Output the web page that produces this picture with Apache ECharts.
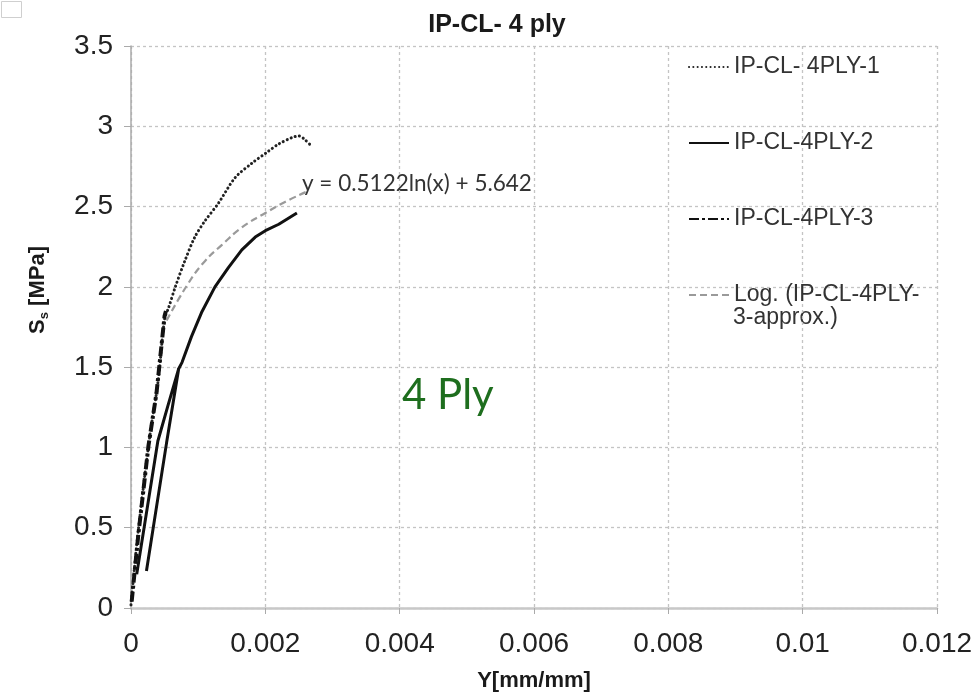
<!DOCTYPE html>
<html>
<head>
<meta charset="utf-8">
<script src="https://cdn.jsdelivr.net/npm/echarts@6/dist/echarts.min.js"></script>
<style>
  html, body { margin: 0; padding: 0; background: #ffffff; }
  #chart { width: 980px; height: 697px; }
</style>
</head>
<body>
<div id="chart"></div>
<script>
// ---- data ----
const xTicks = [0, 0.002, 0.004, 0.006, 0.008, 0.01, 0.012];
const yTicks = [0, 0.5, 1, 1.5, 2, 2.5, 3, 3.5];

const seriesNames = ['IP-CL- 4PLY-1', 'IP-CL-4PLY-2', 'IP-CL-4PLY-3', 'Log. (IP-CL-4PLY-3-approx.)'];

// IP-CL- 4PLY-1 (dotted)
const s1X = [0, 0.0001, 0.00028, 0.0004, 0.0005, 0.00056, 0.00066, 0.0008, 0.00095, 0.0011, 0.0013, 0.00155, 0.0018, 0.00203, 0.0022, 0.0024, 0.0025, 0.00258, 0.00268];
const s1Y = [0.02, 0.45, 1.07, 1.4, 1.8, 1.87, 2.0, 2.16, 2.31, 2.41, 2.52, 2.68, 2.77, 2.84, 2.89, 2.93, 2.94, 2.92, 2.88];

// IP-CL-4PLY-2 (solid, load / unload / reload)
const s2X = [0.000085, 0.0004, 0.00055, 0.00071, 0.00053, 0.00023, 0.00053, 0.00071, 0.00076, 0.0009, 0.00105, 0.00125, 0.00145, 0.00165, 0.00185, 0.002, 0.0022, 0.00247];
const s2Y = [0.21, 1.04, 1.26, 1.49, 1.03, 0.23, 1.03, 1.49, 1.53, 1.69, 1.84, 2.0, 2.12, 2.23, 2.31, 2.35, 2.39, 2.46];

// IP-CL-4PLY-3 (dash-dot)
const s3X = [0.00001, 0.00011, 0.00026, 0.00038, 0.0005, 0.00052];
const s3Y = [0.04, 0.46, 1.01, 1.34, 1.82, 1.85];

// Log. trend line
const logX = [0.00053, 0.00085, 0.0011, 0.00135, 0.00165, 0.002, 0.0023, 0.0026];
const logY = [1.79, 2.02, 2.16, 2.26, 2.37, 2.46, 2.53, 2.59];

const titleText = 'IP-CL- 4 ply';
const xName = 'Y[mm/mm]';
const equationText = 'y = 0.5122ln(x) + 5.642';
const plyText = '4 Ply';

function pairs(xs, ys) { return xs.map((x, i) => [x, ys[i]]); }

const chart = echarts.init(document.getElementById('chart'), null, { renderer: 'canvas' });

const gridLine = { show: true, lineStyle: { color: '#c4c4c4', width: 1.3, type: [3, 3] } };

const option = {
  backgroundColor: '#ffffff',
  animation: false,
  title: {
    text: titleText,
    left: 492, top: 8, textAlign: 'center',
    textStyle: { fontFamily: 'Liberation Sans', fontWeight: 'bold', fontSize: 25, color: '#1a1a1a' }
  },
  grid: { left: 131, right: 43, top: 46, bottom: 83, containLabel: false },
  legend: {
    orient: 'vertical',
    left: 688, top: 54, padding: 0,
    itemWidth: 40, itemHeight: 14,
    itemGap: 50,
    data: seriesNames,
    itemStyle: { opacity: 0 },
    formatter: function (n) { return n === seriesNames[3] ? 'Log. (IP-CL-4PLY-' : n; },
    textStyle: { fontFamily: 'Liberation Sans', fontSize: 23, color: '#333', lineHeight: 26 }
  },
  xAxis: {
    type: 'value', min: xTicks[0], max: xTicks[xTicks.length - 1], interval: 0.002,
    axisLine: { show: true, onZero: false, lineStyle: { color: '#c8c8c8', width: 2.5 } },
    axisTick: { show: true, length: 6, lineStyle: { color: '#aaa', width: 1 } },
    axisLabel: {
      margin: 22, fontFamily: 'Liberation Sans', fontSize: 28, color: '#222',
      formatter: function (v) { return String(parseFloat(v.toFixed(4))); }
    },
    splitLine: gridLine,
    name: xName, nameLocation: 'middle', nameGap: 62,
    nameTextStyle: { fontFamily: 'Liberation Sans', fontWeight: 'bold', fontSize: 22, color: '#1a1a1a' }
  },
  yAxis: {
    type: 'value', min: yTicks[0], max: yTicks[yTicks.length - 1], interval: 0.5,
    axisLine: { show: true, onZero: false, lineStyle: { color: '#aaa', width: 1.5 } },
    axisTick: { show: true, length: 7, lineStyle: { color: '#aaa', width: 1 } },
    axisLabel: { margin: 18, fontFamily: 'Liberation Sans', fontSize: 28, color: '#222' },
    splitLine: gridLine
  },
  graphic: [
    { type: 'rect', left: -1, top: -1, shape: { width: 20, height: 16 }, style: { fill: 'none', stroke: '#cfcfcf', lineWidth: 1 } },
    {
      type: 'text', x: 38, y: 290, rotation: Math.PI / 2,
      style: {
        text: '{b|S}{s|s}{b| [MPa]}', align: 'center', verticalAlign: 'middle',
        rich: {
          b: { fontFamily: 'Liberation Sans', fontWeight: 'bold', fontSize: 22, fill: '#1a1a1a' },
          s: { fontFamily: 'Liberation Sans', fontWeight: 'bold', fontSize: 13, fill: '#1a1a1a', padding: [12, 0, 0, 0] }
        }
      }
    },
    {
      type: 'text', x: 733, y: 318,
      style: { text: '3-approx.)', fontFamily: 'Liberation Sans', fontSize: 23, fill: '#333', verticalAlign: 'middle' }
    },
    {
      type: 'text', x: 302, y: 184,
      style: { text: equationText, fontFamily: 'Lato', fontSize: 22.5, fill: '#333', verticalAlign: 'middle' }
    },
    {
      type: 'text', x: 402, y: 395,
      style: { text: plyText, fontFamily: 'Lato', fontSize: 42, fill: '#1e6e1e', verticalAlign: 'middle' }
    }
  ],
  series: [
    {
      name: seriesNames[0], type: 'line', data: pairs(s1X, s1Y), symbol: 'none', smooth: 0.3,
      lineStyle: { color: '#222', width: 3, type: [0.1, 4.2], cap: 'round' }, itemStyle: { color: '#222' }, z: 3
    },
    {
      name: seriesNames[1], type: 'line', data: pairs(s2X, s2Y), symbol: 'none', smooth: false,
      lineStyle: { color: '#111', width: 3 }, itemStyle: { color: '#111' }, z: 4
    },
    {
      name: seriesNames[2], type: 'line', data: pairs(s3X, s3Y), symbol: 'none', smooth: false,
      lineStyle: { color: '#111', width: 4, type: [10, 3, 3, 3] }, itemStyle: { color: '#111' }, z: 5
    },
    {
      name: seriesNames[3], type: 'line', data: pairs(logX, logY), symbol: 'none', smooth: true,
      lineStyle: { color: '#9a9a9a', width: 2.2, type: [7, 4] }, itemStyle: { color: '#9a9a9a' }, z: 2
    }
  ]
};

chart.setOption(option);
</script>
</body>
</html>
